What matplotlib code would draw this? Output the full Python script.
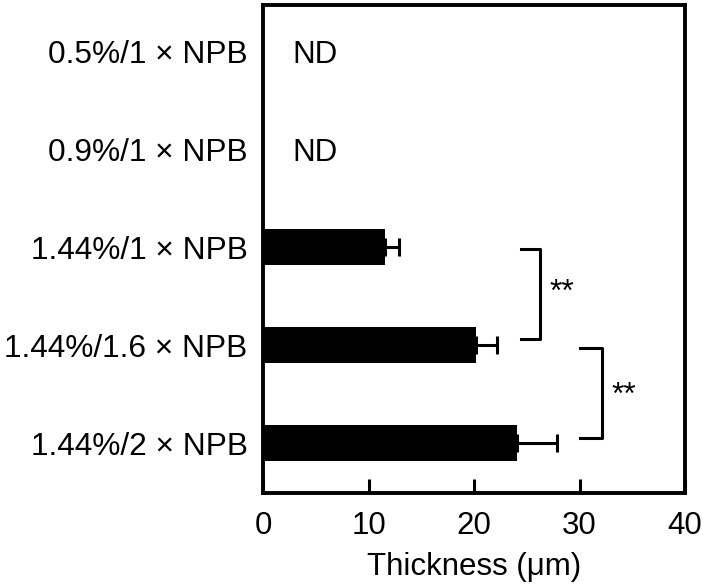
import matplotlib.pyplot as plt

plt.rcParams['font.family'] = ['Liberation Sans', 'DejaVu Sans']

# data
labels = ["0.5%/1 \u00d7 NPB", "0.9%/1 \u00d7 NPB", "1.44%/1 \u00d7 NPB",
          "1.44%/1.6 \u00d7 NPB", "1.44%/2 \u00d7 NPB"]
thickness = [0, 0, 11.6, 20.2, 24.1]
errors = [0, 0, 1.3, 2.0, 3.8]
detected = [False, False, True, True, True]

fig = plt.figure(figsize=(7.03, 5.86), dpi=100)
ax = fig.add_axes([263 / 703, 93 / 586, 422 / 703, 488 / 586])

pos = list(range(len(labels)))
for i in pos:
    if detected[i]:
        ax.barh(i, thickness[i], height=0.36, color='black')
        ax.errorbar(thickness[i], i, xerr=[[0], [errors[i]]], color='black',
                    capsize=6.5, capthick=2.2, elinewidth=2.2)
    else:
        ax.text(2.8, i, "ND", fontsize=22.5, va='center_baseline', ha='left')

# significance brackets
def bracket(x0, x1, y0, y1, tx, ty):
    ax.plot([x0, x1, x1, x0], [y0, y0, y1, y1], color='black', lw=2.2,
            solid_joinstyle='round', clip_on=False)
    ax.text(tx, ty, "**", fontsize=23, ha='left', va='center')

bracket(24.5, 26.3, 2.02, 2.94, 27.2, 2.47)
bracket(30.0, 32.1, 3.03, 3.95, 33.0, 3.52)

ax.set_xlim(0, 40)
ax.set_ylim(4.51, -0.47)
ax.set_xticks([0, 10, 20, 30, 40])
ax.set_yticks(pos)
ax.set_yticklabels(labels)
ax.tick_params(axis='x', direction='in', length=10, width=2.2, labelsize=22.5, pad=13)
ax.tick_params(axis='y', length=0, labelsize=22.8, pad=11)
for s in ax.spines.values():
    s.set_linewidth(2.8)
ax.set_xlabel("Thickness (\u03bcm)", fontsize=22.5, labelpad=8)

fig.savefig("out.png", dpi=100)
